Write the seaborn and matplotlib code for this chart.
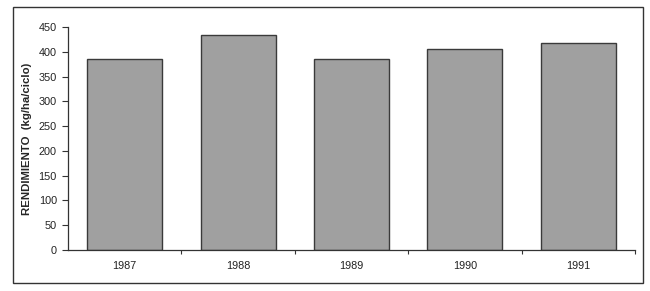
import matplotlib
matplotlib.use("Agg")
import matplotlib.pyplot as plt
import seaborn as sns
import pandas as pd
from matplotlib.patches import Rectangle
from matplotlib.ticker import FixedLocator

years = ["1987", "1988", "1989", "1990", "1991"]
rendimiento = [385, 434, 385, 405, 417]
yticks = [0, 50, 100, 150, 200, 250, 300, 350, 400, 450]

sns.set_style("white")
plt.rcParams['font.family'] = ['Liberation Sans', 'DejaVu Sans']

df = pd.DataFrame({"year": years, "val": rendimiento})

fig = plt.figure(figsize=(6.5, 2.91), dpi=100)
ax = fig.add_axes([68/650, 1-250/291, (635-68)/650, (250-27)/291])

sns.barplot(data=df, x="year", y="val", color="#a0a0a0", width=0.66,
            edgecolor="#3a3a3a", linewidth=1.0, saturation=1, ax=ax)

ax.set_xlim(-0.5, 4.5)
ax.set_ylim(0, 450)
ax.set_yticks(yticks)
ax.set_yticklabels([str(t) for t in yticks], fontsize=7.8, color="#222222")
ax.tick_params(axis='y', direction='out', length=4, width=0.8, color="#333333", pad=4, left=True)
ax.tick_params(axis='x', which='major', length=0, labelsize=7.8, pad=8, labelcolor="#222222")
ax.xaxis.set_minor_locator(FixedLocator([0.5, 1.5, 2.5, 3.5, 4.5]))
ax.tick_params(axis='x', which='minor', direction='out', length=3, width=0.8, color="#333333", bottom=True)
ax.set_xlabel("")
ax.set_ylabel("RENDIMIENTO  (kg/ha/ciclo)", fontsize=8.2, fontweight='bold', labelpad=5)

for s in ["top", "right"]:
    ax.spines[s].set_visible(False)
for s in ["left", "bottom"]:
    ax.spines[s].set_color("#333333")
    ax.spines[s].set_linewidth(0.9)

frame = Rectangle((13/650, 1-283/291), (643-13)/650, (283-7)/291, transform=fig.transFigure,
                  fill=False, edgecolor="#333333", linewidth=1.0)
fig.patches.append(frame)

fig.savefig("out.png", dpi=100, facecolor="white")
